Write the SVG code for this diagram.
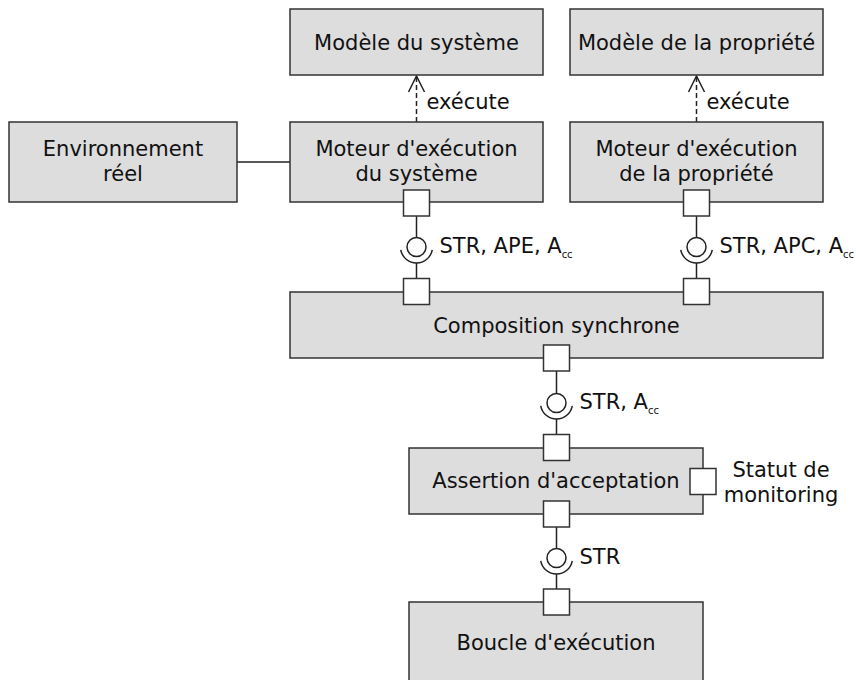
<svg xmlns="http://www.w3.org/2000/svg" width="856" height="680" viewBox="0 0 856 680">
<style>
.box{fill:#dddddd;stroke:#333;stroke-width:1.5}
.port{fill:#fff;stroke:#333;stroke-width:1.5}
.ln{fill:none;stroke:#222;stroke-width:1.5}
.dash{fill:none;stroke:#222;stroke-width:1.5;stroke-dasharray:5,3}
.ball{fill:#fff;stroke:#222;stroke-width:1.5}
text{font-family:"DejaVu Sans",sans-serif;font-size:21px;fill:#111}
.c{text-anchor:middle}
.sub{font-size:10px}
</style>
<rect width="856" height="680" fill="#fff"/>
<g id="connectors">
  <line class="ln" x1="237" y1="162" x2="290" y2="162"/>
  <line class="dash" x1="416.5" y1="122" x2="416.5" y2="77"/>
  <polyline class="ln" points="408.5,92 416.5,76 424.5,92"/>
  <line class="dash" x1="696.5" y1="122" x2="696.5" y2="77"/>
  <polyline class="ln" points="688.5,92 696.5,76 704.5,92"/>
  <text x="426.5" y="108.5">exécute</text>
  <text x="706.5" y="108.5">exécute</text>
  <g id="if1">
    <line class="ln" x1="416.5" y1="216" x2="416.5" y2="237.5"/>
    <circle class="ball" cx="416.5" cy="247" r="9.5"/>
    <path class="ln" d="M400.74,249.78 A16 16 0 0 0 432.26,249.78"/>
    <line class="ln" x1="416.5" y1="263" x2="416.5" y2="278.5"/>
    <text x="439.5" y="252.7">STR, APE, A<tspan class="sub" dy="5.5">cc</tspan></text>
  </g>
  <g id="if2">
    <line class="ln" x1="696.5" y1="216" x2="696.5" y2="237.5"/>
    <circle class="ball" cx="696.5" cy="247" r="9.5"/>
    <path class="ln" d="M680.74,249.78 A16 16 0 0 0 712.26,249.78"/>
    <line class="ln" x1="696.5" y1="263" x2="696.5" y2="278.5"/>
    <text x="719.5" y="252.7">STR, APC, A<tspan class="sub" dy="5.5">cc</tspan></text>
  </g>
  <g id="if3">
    <line class="ln" x1="556.5" y1="371" x2="556.5" y2="393.5"/>
    <circle class="ball" cx="556.5" cy="403" r="9.5"/>
    <path class="ln" d="M540.74,405.78 A16 16 0 0 0 572.26,405.78"/>
    <line class="ln" x1="556.5" y1="419" x2="556.5" y2="434.5"/>
    <text x="579.5" y="408.7">STR, A<tspan class="sub" dy="5.5">cc</tspan></text>
  </g>
  <g id="if4">
    <line class="ln" x1="556.5" y1="527" x2="556.5" y2="548.5"/>
    <circle class="ball" cx="556.5" cy="558" r="9.5"/>
    <path class="ln" d="M540.74,560.78 A16 16 0 0 0 572.26,560.78"/>
    <line class="ln" x1="556.5" y1="574" x2="556.5" y2="589"/>
    <text x="579.5" y="563.7">STR</text>
  </g>
</g>
<g id="modele-systeme">
  <rect class="box" x="290" y="9" width="253" height="66"/>
  <text class="c" x="416.5" y="49.5">Modèle du système</text>
</g>
<g id="modele-propriete">
  <rect class="box" x="570" y="9" width="253" height="66"/>
  <text class="c" x="696.5" y="49.5">Modèle de la propriété</text>
</g>
<g id="environnement">
  <rect class="box" x="9" y="122" width="228" height="80"/>
  <text class="c" x="123" y="156">Environnement</text>
  <text class="c" x="123" y="181">réel</text>
</g>
<g id="moteur-systeme">
  <rect class="box" x="290" y="122" width="253" height="80"/>
  <text class="c" x="416.5" y="156">Moteur d'exécution</text>
  <text class="c" x="416.5" y="181">du système</text>
  <rect class="port" x="403.5" y="190" width="26" height="26"/>
</g>
<g id="moteur-propriete">
  <rect class="box" x="570" y="122" width="253" height="80"/>
  <text class="c" x="696.5" y="156">Moteur d'exécution</text>
  <text class="c" x="696.5" y="181">de la propriété</text>
  <rect class="port" x="683.5" y="190" width="26" height="26"/>
</g>
<g id="composition">
  <rect class="box" x="290" y="292" width="533" height="66"/>
  <text class="c" x="556.5" y="332.7">Composition synchrone</text>
  <rect class="port" x="403.5" y="278.5" width="26" height="26"/>
  <rect class="port" x="683.5" y="278.5" width="26" height="26"/>
  <rect class="port" x="543.5" y="345" width="26" height="26"/>
</g>
<g id="assertion">
  <rect class="box" x="409" y="448" width="294" height="66"/>
  <text class="c" x="556" y="488">Assertion d'acceptation</text>
  <rect class="port" x="543.5" y="434.5" width="26" height="26"/>
  <rect class="port" x="690" y="468.5" width="26" height="26"/>
  <rect class="port" x="543.5" y="501" width="26" height="26"/>
  <text class="c" x="781" y="476.5">Statut de</text>
  <text class="c" x="781" y="501.5">monitoring</text>
</g>
<g id="boucle">
  <rect class="box" x="409" y="602" width="294" height="90"/>
  <text class="c" x="556" y="650">Boucle d'exécution</text>
  <rect class="port" x="543.5" y="589" width="26" height="26"/>
</g>
</svg>
